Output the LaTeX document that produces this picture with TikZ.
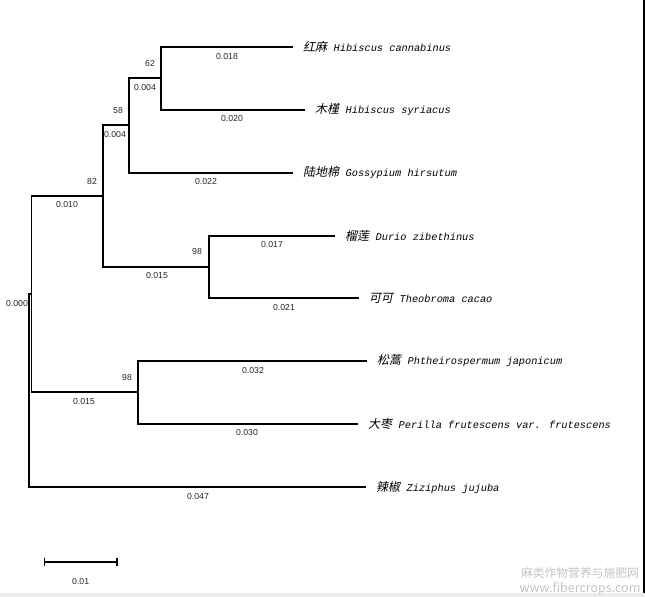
\documentclass[tikz,border=0pt]{standalone}
\usepackage{fontspec}
\setmainfont{Liberation Sans}
\newfontfamily\taxlat{Liberation Mono}
\newfontfamily\cjk{Noto Sans CJK SC}[FakeSlant=0.2]
\newfontfamily\cjkplain{Noto Sans CJK SC}
\definecolor{wmgray}{HTML}{C4C4C4}
\definecolor{stripgray}{HTML}{ECECEC}
\newcommand\taxname[2]{{\fontsize{12bp}{13bp}\cjk #1}\hspace{6.5bp}{\fontsize{10.3bp}{13bp}\taxlat\itshape #2}}
\tikzset{
  branch/.style={draw=black, line width=1.8bp},
  taxon/.style={anchor=west, inner sep=0pt, xshift=10bp},
  blen/.style={inner sep=0pt, font=\fontsize{8.7bp}{10bp}\selectfont, text=black!85},
  boot/.style={inner sep=0pt, font=\fontsize{8.7bp}{10bp}\selectfont, text=black!85},
}
\begin{document}
\begin{tikzpicture}[x=1bp,y=-1bp]
\useasboundingbox (0,0) rectangle (645,597);
\fill[stripgray] (0,593) rectangle (645,597);
\draw[line width=1.2bp] (644,0) -- (644,593);
% internal nodes
\coordinate (rt) at (29,390);
\coordinate (A) at (31.5,294);
\coordinate (B) at (102.7,196);
\coordinate (C) at (129,125);
\coordinate (D) at (161,78);
\coordinate (E) at (209,267);
\coordinate (F) at (137.8,392);
% leaf ends
\coordinate (l1) at (293,47);
\coordinate (l2) at (305,110);
\coordinate (l3) at (293,173);
\coordinate (l4) at (335,236);
\coordinate (l5) at (359,298);
\coordinate (l6) at (367,361);
\coordinate (l7) at (358,424);
\coordinate (l8) at (366,487);
% taxa
\node[taxon] (t1) at (l1) {\taxname{红麻}{Hibiscus cannabinus}};
\node[taxon] (t2) at (l2) {\taxname{木槿}{Hibiscus syriacus}};
\node[taxon] (t3) at (l3) {\taxname{陆地棉}{Gossypium hirsutum}};
\node[taxon] (t4) at (l4) {\taxname{榴莲}{Durio zibethinus}};
\node[taxon] (t5) at (l5) {\taxname{可可}{Theobroma cacao}};
\node[taxon] (t6) at (l6) {\taxname{松蒿}{Phtheirospermum japonicum}};
\node[taxon] (t7) at (l7) {\taxname{大枣}{Perilla frutescens var. frutescens}};
\node[taxon] (t8) at (l8) {\taxname{辣椒}{Ziziphus jujuba}};
% branches
\draw[branch] (rt) |- (A);
\draw[branch] (rt) |- (l8);
\draw[branch] (A) |- (B);
\draw[branch] (A) |- (F);
\draw[branch] (B) |- (C);
\draw[branch] (B) |- (E);
\draw[branch] (C) |- (D);
\draw[branch] (C) |- (l3);
\draw[branch] (D) |- (l1);
\draw[branch] (D) |- (l2);
\draw[branch] (E) |- (l4);
\draw[branch] (E) |- (l5);
\draw[branch] (F) |- (l6);
\draw[branch] (F) |- (l7);
% bootstrap values
\node[boot] (b62) at (150,64) {62};
\node[boot] (b58) at (118,111) {58};
\node[boot] (b82) at (92,182) {82};
\node[boot] (b98a) at (197,252) {98};
\node[boot] (b98b) at (127,378) {98};
% branch lengths
\node[blen] (n1) at (227,57) {0.018};
\node[blen] (n2) at (232,119) {0.020};
\node[blen] (n3) at (206,182) {0.022};
\node[blen] (n4) at (145,88) {0.004};
\node[blen] (n5) at (115,135) {0.004};
\node[blen] (n6) at (67,205) {0.010};
\node[blen] (n7) at (157,276) {0.015};
\node[blen] (n8) at (272,245) {0.017};
\node[blen] (n9) at (284,308) {0.021};
\node[blen] (n10) at (17,304) {0.000};
\node[blen] (n11) at (84,402) {0.015};
\node[blen] (n12) at (253,371) {0.032};
\node[blen] (n13) at (247,433) {0.030};
\node[blen] (n14) at (198,496) {0.047};
% scale bar
\coordinate (sb1) at (44.3,561.7);
\coordinate (sb2) at (117,561.7);
\draw[line width=1.6bp] (sb1) -- (sb2);
\draw[line width=1.4bp] ([yshift=4bp]sb1) -- ([yshift=-4bp]sb1);
\draw[line width=1.4bp] ([yshift=4bp]sb2) -- ([yshift=-4bp]sb2);
\node[blen] (sbl) at (80.7,581.7) {0.01};
% watermark
\node[inner sep=0pt, text=wmgray, font=\fontsize{11.8bp}{12bp}\cjkplain] (wm1) at (580,573) {麻类作物营养与施肥网};
\node[inner sep=0pt, text=wmgray, font=\fontsize{12.5bp}{12bp}\cjkplain] (wm2) at (580,588.5) {www.fibercrops.com};
\end{tikzpicture}
\end{document}
